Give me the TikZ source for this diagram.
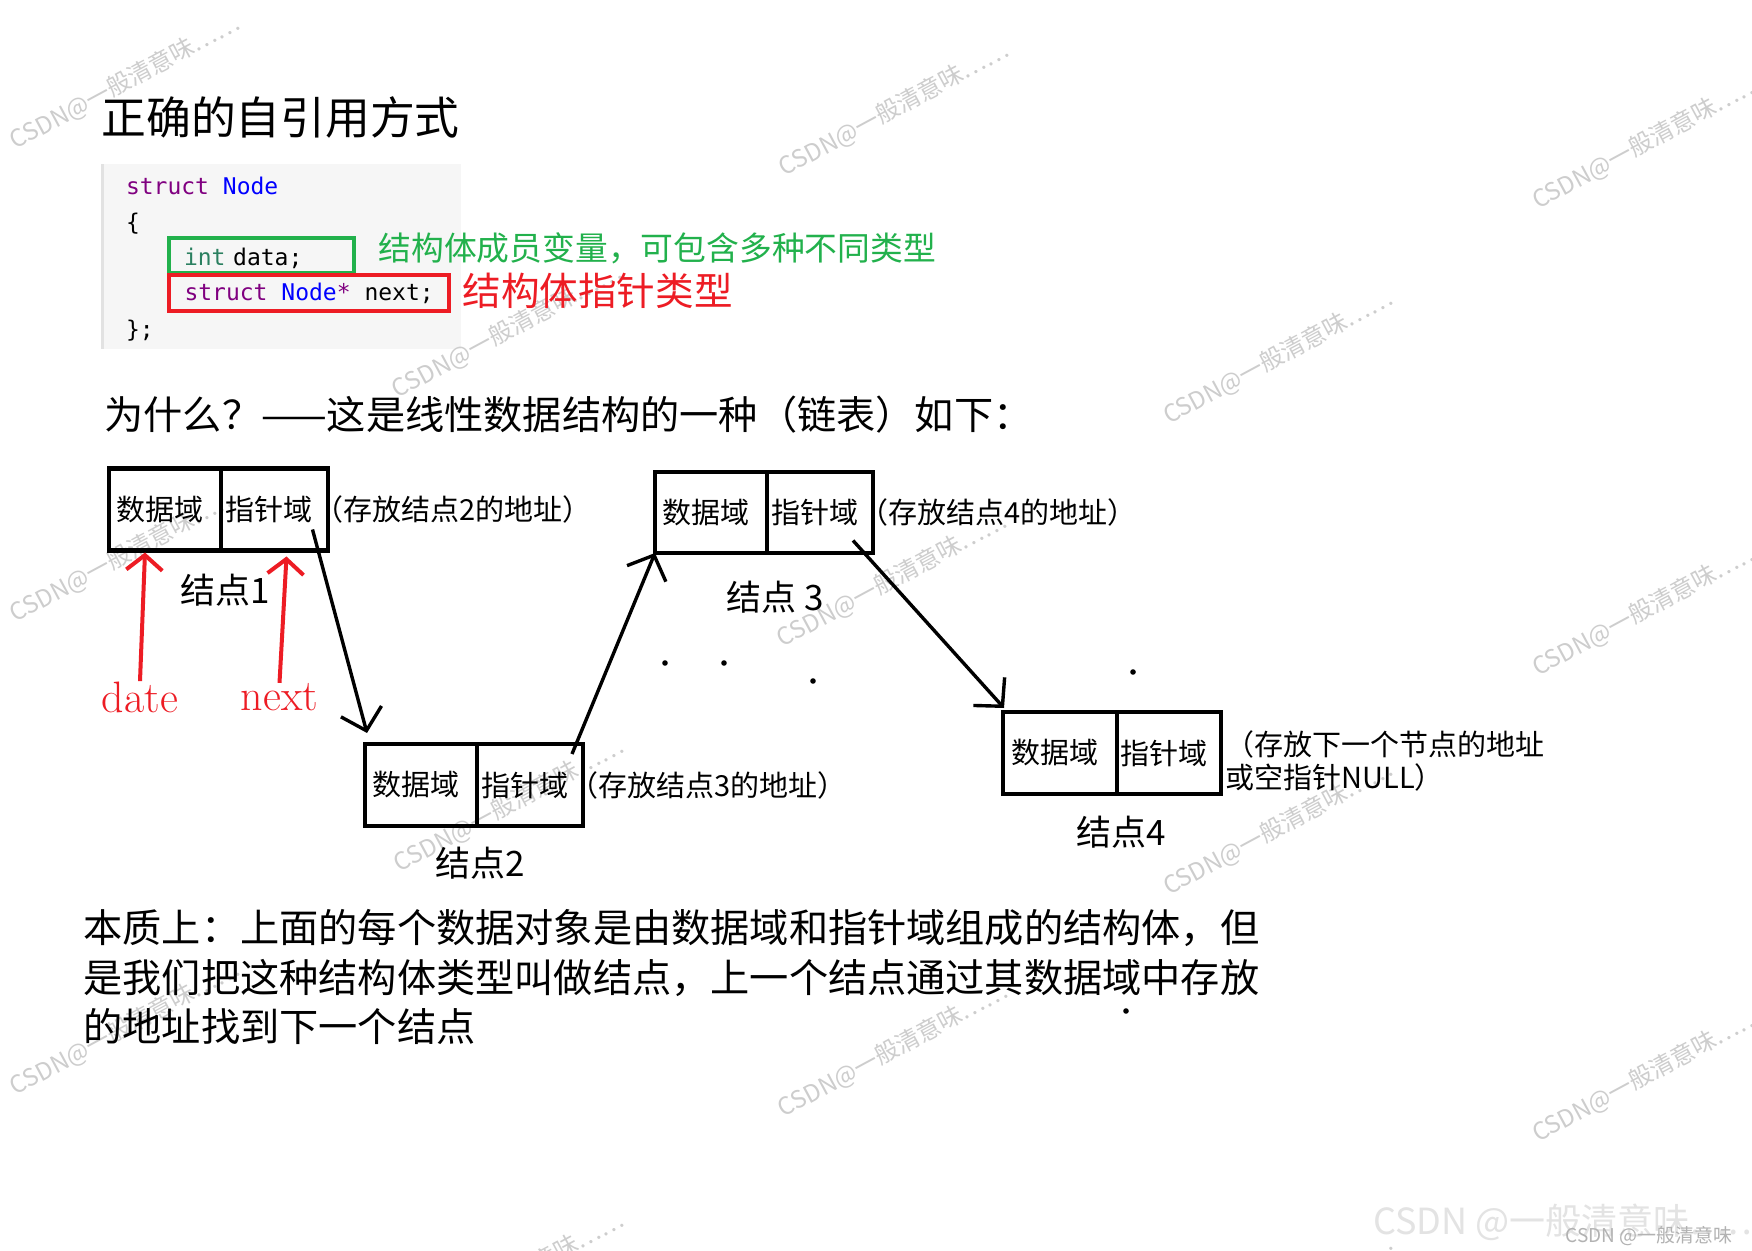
\documentclass[tikz,border=0pt]{standalone}
\usepackage{fontspec}
\setmonofont{DejaVu Sans Mono}
\newfontfamily\cjk{Noto Sans CJK SC}
\usetikzlibrary{arrows.meta,positioning}

\definecolor{mgreen}{RGB}{34,177,76}
\definecolor{mred}{RGB}{237,28,36}
\definecolor{kwpurple}{RGB}{128,0,128}
\definecolor{kwblue}{RGB}{0,0,255}
\definecolor{kwint}{RGB}{43,128,96}
\definecolor{codebg}{RGB}{246,246,246}
\definecolor{codeedge}{RGB}{226,226,226}
\definecolor{wmgray}{RGB}{205,205,205}

\tikzset{
  cellbox/.style={draw, line width=2.2pt, outer sep=0pt, inner sep=0pt,
    minimum height=41pt, minimum width=55pt, text width=49pt, align=left,
    font=\cjk\fontsize{14.5}{16}\selectfont},
  addrnote/.style={inner sep=0pt, align=left,
    font=\cjk\fontsize{14.5}{16.5}\selectfont},
  nodecap/.style={inner sep=0pt, font=\cjk\fontsize{17.5}{19}\selectfont},
  bigtext/.style={inner sep=0pt, anchor=west, align=left,
    font=\cjk\fontsize{19.6}{24.75}\selectfont},
  codeline/.style={inner sep=0pt, outer sep=0pt, anchor=base west,
    font=\ttfamily\fontsize{11.5}{14}\selectfont},
  ptrarrow/.style={line width=1.7pt, -{Straight Barb[length=10pt,width=21pt]}},
  redarrow/.style={mred, line width=2pt, -{Straight Barb[length=7.5pt,width=18pt]}},
  redlabel/.style={mred, inner sep=0pt, font=\fontsize{22}{24}\selectfont},
  wmark/.style={wmgray, rotate=28.3, inner sep=0pt,
    font=\cjk\fontsize{12}{14}\selectfont},
}

\begin{document}
\begin{tikzpicture}[x=0.5pt, y=-0.5pt]
  \useasboundingbox (0,0) rectangle (1752,1251);
  \fill[white] (0,0) rectangle (1752,1251);

  % code background
  \fill[codebg] (102,164) rectangle (461,349);
  \fill[codeedge] (101,164) rectangle (104,349);

  % watermarks
  \foreach \x/\y [count=\i] in {125/82, 894/109, 1647/142, 125/555, 892/580,
      1647/609, 125/1028, 893/1050, 1647/1075, 507/331, 1278/357, 509/805,
      1278/828, 509/1279, 1278/1302}
    \node[wmark] (wm\i) at (\x,\y) {CSDN@一般清意味……};
  \node[anchor=west, inner sep=0pt, text=gray!22,
    font=\cjk\fontsize{18}{20}\selectfont] (logo) at (1373,1222) {CSDN @一般清意味……};
  \node[anchor=west, inner sep=0pt, text=gray!60,
    font=\cjk\fontsize{9.5}{11}\selectfont] (logosmall) at (1565,1236) {CSDN @一般清意味};

  % title and code
  \node[inner sep=0pt, anchor=west, font=\cjk\fontsize{22.4}{24}\selectfont]
    (title) at (101,117) {正确的自引用方式};
  \node[codeline] (c1) at (126,195) {\textcolor{kwpurple}{struct} \textcolor{kwblue}{Node}};
  \node[codeline] (c2) at (126,231) {\{};
  \node[codeline, draw=mgreen, line width=2pt, inner xsep=7.5pt, inner ysep=2pt,
    text width=77.5pt, align=left, text height=12pt, text depth=1.5pt]
    (c3) at (169,266) {\textcolor{kwint}{int} data;};
  \node[codeline, draw=mred, line width=2pt, inner xsep=7.75pt, inner ysep=2pt,
    text height=11pt, text depth=3pt]
    (c4) at (169,301) {\textcolor{kwpurple}{struct} \textcolor{kwblue}{Node}\textcolor{kwpurple}{*} next;};
  \node[codeline] (c5) at (126,338) {\};};
  \node[anchor=west, inner sep=0pt, text=mgreen,
    font=\cjk\fontsize{16.4}{18}\selectfont] (membernote) at (378,248)
    {结构体成员变量，可包含多种不同类型};
  \node[anchor=west, inner sep=0pt, text=mred,
    font=\cjk\fontsize{19.3}{21}\selectfont] (ptrnote) at (462,291)
    {结构体指针类型};

  \node[bigtext] (why) at (104,415) {为什么？——这是线性数据结构的一种（链表）如下：};

  % node 1
  \node[cellbox, minimum width=56pt] (n1d) at (165,509.5) {数据域};
  \node[cellbox, minimum width=53.5pt, anchor=west] (n1p) at (n1d.east) {指针域};
  \node[addrnote, right=-7pt of n1p] (a1) {（存放结点2的地址）};
  \node[nodecap] (l1) at (225,590) {结点1};
  \node[redlabel] (date) at (140,697) {date};
  \node[redlabel] (next) at (279.5,697) {next};
  \draw[redarrow] (date.north) -- ([xshift=-10pt,yshift=-1pt]n1d.south);
  \draw[redarrow] (next.north) -- ([xshift=6pt,yshift=-3pt]n1p.south);

  % node 2
  \node[cellbox, minimum width=56pt] (n2d) at (421,785) {数据域};
  \node[cellbox, minimum width=53pt, anchor=west] (n2p) at (n2d.east) {指针域};
  \node[addrnote, right=-7pt of n2p] (a2) {（存放结点3的地址）};
  \node[nodecap] (l2) at (480,863) {结点2};

  % node 3
  \node[cellbox, minimum width=56pt, minimum height=40.5pt] (n3d) at (711,512.5) {数据域};
  \node[cellbox, minimum width=53pt, minimum height=40.5pt, anchor=west] (n3p) at (n3d.east) {指针域};
  \node[addrnote, right=-7pt of n3p] (a3) {（存放结点4的地址）};
  \node[nodecap] (l3) at (775,597) {结点 3};

  % node 4
  \node[cellbox, minimum width=57pt] (n4d) at (1060,753) {数据域};
  \node[cellbox, minimum width=52pt, anchor=west] (n4p) at (n4d.east) {指针域};
  \node[addrnote, right=2pt of n4p, yshift=-4pt] (a4) {（存放下一个节点的地址\\或空指针NULL）};
  \node[nodecap] (l4) at (1121,832) {结点4};

  % links
  \draw[ptrarrow] ([xshift=19pt,yshift=-10pt]n1p.center) -- ([xshift=1pt,yshift=5.5pt]n2d.north west);
  \draw[ptrarrow] ([xshift=21pt,yshift=15.5pt]n2p.center) -- (n3d.south west);
  \draw[ptrarrow] ([xshift=16.5pt,yshift=-14pt]n3p.center) -- ([xshift=0.5pt,yshift=2pt]n4d.north west);

  % stray dots
  \fill (665,663) circle (1.4pt);
  \fill (724,663) circle (1.4pt);
  \fill (813,681) circle (1.4pt);
  \fill (1133,672) circle (1.4pt);
  \fill (1126,1011) circle (1.4pt);

  \node[bigtext] (summary) at (83,977)
    {本质上：上面的每个数据对象是由数据域和指针域组成的结构体，但\\
     是我们把这种结构体类型叫做结点，上一个结点通过其数据域中存放\\
     的地址找到下一个结点};
\end{tikzpicture}
\end{document}
